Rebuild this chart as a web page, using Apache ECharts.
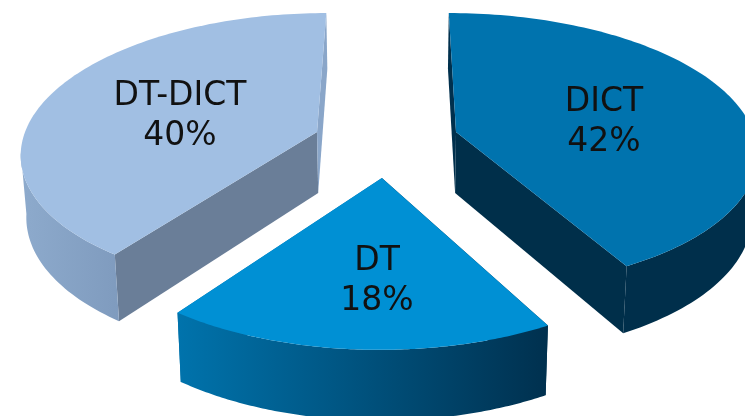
<!DOCTYPE html>
<html>
<head>
<meta charset="utf-8">
<style>html,body{margin:0;padding:0;background:#fff}#chart{width:745px;height:416px}</style>
<script src="https://cdn.jsdelivr.net/npm/echarts@6/dist/echarts.min.js"></script>
</head>
<body>
<div id="chart"></div>
<script>
// Slices run clockwise from twelve o'clock.
const categories = ['DICT', 'DT', 'DT-DICT'];
const shares = [42, 18, 40];

// Perspective camera for the tilted disc (unit radius, y pointing away from the viewer).
const camera = { x0: 395, y0: 132, scaleX: 292, scaleY: 135, k: 0.135 };
// Extrusion of the disc: bottom rim sits lower and slightly closer to the vanishing axis.
const depth = { base: 61, grow: 0.045, squeeze: 0.985 };
// Only the near part of the rim shows a wall; this cosine marks the silhouette tangent.
const wallLimit = -0.14;

// Per-slice presentation: explode offset, width factor, fills and label position.
const looks = [
  { ex: 0.209, ey: 0, rx: 1.018, top: '#0073AE', wall: ['#002F4B', '#002F4B'], wallSpan: [450, 745], startFace: '#00304D', endFace: '#002F4A', lx: 604, ly: 122 },
  { ex: -0.043, ey: -0.325, rx: 1, top: '#0090D4', wall: ['#0073AC', '#00304E'], wallSpan: [178, 550], startFace: '#003050', endFace: '#0073AC', lx: 377, ly: 281 },
  { ex: -0.267, ey: 0, rx: 1, top: '#A1BFE3', wall: ['#8DAACC', '#7F9BBE'], wallSpan: [22, 120], startFace: '#6A7E98', endFace: '#8AA6C9', lx: 180, ly: 116 }
];

function project(x, y) {
  const w = 1 + camera.k * y;
  return [camera.x0 + camera.scaleX * x / w, camera.y0 - camera.scaleY * y / w];
}
function lower(p) {
  return [
    camera.x0 + (p[0] - camera.x0) * depth.squeeze,
    p[1] + depth.base + (p[1] - camera.y0) * depth.grow
  ];
}

const total = shares.reduce((a, b) => a + b, 0);

function renderSlice(params, api) {
  const i = api.value(0);
  const look = looks[i];
  const before = shares.slice(0, i).reduce((a, b) => a + b, 0);
  const a0 = before / total * Math.PI * 2;
  const a1 = (before + shares[i]) / total * Math.PI * 2;

  const rim = [];
  const front = [];
  const steps = 120;
  for (let s = 0; s <= steps; s++) {
    const a = a0 + (a1 - a0) * s / steps;
    const p = project(look.ex + look.rx * Math.sin(a), look.ey + Math.cos(a));
    rim.push(p);
    if (Math.cos(a) <= wallLimit) front.push(p);
  }
  const apex = project(look.ex, look.ey);
  const apexLow = lower(apex);
  const first = rim[0];
  const last = rim[rim.length - 1];

  const poly = (points, fill) => ({
    type: 'polygon',
    shape: { points },
    style: { fill, stroke: null }
  });

  const wallFill = new echarts.graphic.LinearGradient(look.wallSpan[0], 0, look.wallSpan[1], 0, [
    { offset: 0, color: look.wall[0] },
    { offset: 1, color: look.wall[1] }
  ], true);

  // Cut faces go down first so the outer wall and the top face cover them.
  return {
    type: 'group',
    children: [
      poly([apex, first, lower(first), apexLow], look.startFace),
      poly([apex, last, lower(last), apexLow], look.endFace),
      poly(front.concat(front.map(lower).reverse()), wallFill),
      poly([apex].concat(rim), look.top),
      {
        type: 'text',
        x: look.lx,
        y: look.ly,
        style: {
          text: categories[i] + '\n' + shares[i] + '%',
          fill: '#111111',
          font: '33px "DejaVu Sans"',
          lineHeight: 40,
          align: 'center',
          verticalAlign: 'middle'
        }
      }
    ]
  };
}

const chart = echarts.init(document.getElementById('chart'), null, { renderer: 'canvas' });
chart.setOption({
  animation: false,
  backgroundColor: '#ffffff',
  series: [{
    type: 'custom',
    coordinateSystem: 'none',
    renderItem: renderSlice,
    data: categories.map((c, i) => ({ name: c, value: [i, shares[i]] }))
  }]
});
</script>
</body>
</html>
